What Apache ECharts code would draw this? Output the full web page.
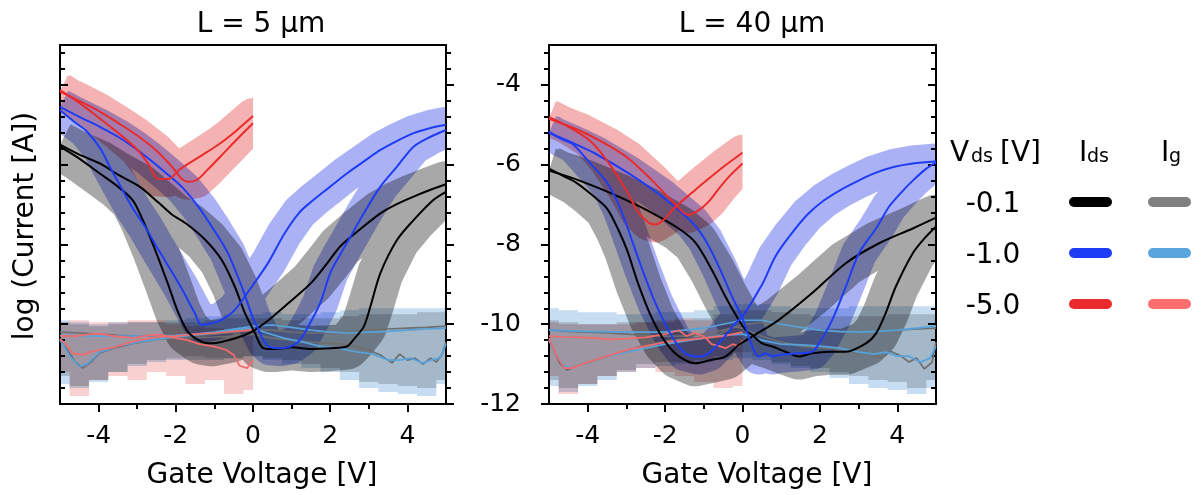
<!DOCTYPE html>
<html><head><meta charset="utf-8">
<script src="https://cdn.jsdelivr.net/npm/echarts@6/dist/echarts.min.js"></script>
<style>html,body{margin:0;padding:0;background:#fff}#chart{width:1201px;height:495px}</style>
</head><body><div id="chart"></div>
<script>
// ---------- tick values / labels ----------
const xMajorTicks = [-4, -2, 0, 2, 4];
const xMinorTicks = [-3, -1, 1, 3];
const yMajorTicks = [-12, -10, -8, -6, -4];
const yMinorTicks = [-11.6,-11.2,-10.8,-10.4,-9.6,-9.2,-8.8,-8.4,-7.6,-7.2,-6.8,-6.4,-5.6,-5.2,-4.8,-4.4,-3.6,-3.2];
const panelTitles = ['L = 5 µm', 'L = 40 µm'];
const xName = 'Gate Voltage [V]';
const yName = 'log (Current [A])';
const vdsLabels = ['-0.1', '-1.0', '-5.0'];

// ---------- L = 5 um : drain current sweeps [Vg, log I] ----------
const l5BlackFwd = [[-5,-5.55],[-4.5,-5.85],[-3.97,-6.22],[-3.5,-6.55],[-3.11,-6.9],[-2.85,-7.4],[-2.55,-8.1],[-2.2,-9.0],[-1.94,-9.7],[-1.68,-10.2],[-1.33,-10.44],[-1.07,-10.48],[-0.64,-10.4],[-0.21,-10.27],[0.05,-10.14],[0.4,-9.9],[0.92,-9.47],[1.52,-8.95],[1.9,-8.5],[2.26,-8.05],[2.8,-7.6],[3.3,-7.22],[3.7,-7.0],[4.16,-6.8],[4.6,-6.63],[5,-6.49]];
const l5BlackRev = [[5,-6.68],[4.68,-6.88],[4.16,-7.39],[3.73,-7.89],[3.3,-8.72],[3.04,-9.56],[2.87,-10.06],[2.6,-10.39],[2.43,-10.56],[2.0,-10.6],[1.5,-10.62],[1.0,-10.58],[0.6,-10.62],[0.4,-10.62],[0.22,-10.56],[0.05,-10.22],[-0.21,-9.72],[-0.47,-9.06],[-0.81,-8.39],[-1.22,-7.9],[-1.7,-7.5],[-2.1,-7.25],[-2.45,-6.95],[-2.94,-6.55],[-3.5,-6.25],[-3.97,-5.97],[-4.5,-5.75],[-5,-5.5]];
const l5BlueFwd = [[-5,-4.63],[-4.6,-4.95],[-4.32,-5.15],[-3.95,-5.6],[-3.71,-6.05],[-3.4,-6.6],[-3.11,-7.1],[-2.8,-7.55],[-2.5,-8.05],[-2.25,-8.45],[-1.85,-9.1],[-1.51,-9.72],[-1.33,-10.02],[-1.07,-9.97],[-0.81,-9.89],[-0.47,-9.64],[-0.12,-9.18],[0.4,-8.45],[0.8,-7.75],[1.2,-7.2],[1.57,-6.88],[2.0,-6.55],[2.43,-6.22],[2.9,-5.9],[3.3,-5.63],[3.7,-5.42],[4.16,-5.21],[4.6,-5.08],[5,-5.0]];
const l5BlueRev = [[5,-5.13],[4.6,-5.3],[4.16,-5.55],[3.73,-6.05],[3.3,-6.55],[2.87,-7.22],[2.5,-7.85],[2.26,-8.25],[2.0,-8.72],[1.74,-9.47],[1.48,-9.97],[1.22,-10.39],[0.96,-10.56],[0.7,-10.6],[0.45,-10.58],[0.3,-10.45],[0.15,-10.15],[0.0,-9.85],[-0.29,-9.06],[-0.66,-8.2],[-1.07,-7.55],[-1.38,-7.1],[-1.8,-6.6],[-2.24,-6.22],[-2.7,-5.85],[-3.11,-5.55],[-3.5,-5.3],[-3.97,-5.05],[-4.5,-4.8],[-5,-4.55]];
const l5RedFwd = [[-5,-4.13],[-4.5,-4.45],[-4.0,-4.82],[-3.5,-5.2],[-3.0,-5.62],[-2.7,-6.0],[-2.47,-6.35],[-2.2,-6.36],[-1.9,-6.12],[-1.38,-5.8],[-0.9,-5.5],[-0.51,-5.21],[0,-4.78]];
const l5RedRev = [[0,-4.96],[-0.3,-5.25],[-0.68,-5.63],[-1.2,-6.15],[-1.45,-6.38],[-1.69,-6.43],[-1.85,-6.35],[-2.1,-6.05],[-2.5,-5.65],[-3.0,-5.27],[-3.5,-4.95],[-4.0,-4.65],[-4.5,-4.4],[-5,-4.17]];

// ---------- L = 5 um : gate current sweeps ----------
const l5IgGrayA = [[-5,-10.2],[-4.5,-10.22],[-4,-10.25],[-3.5,-10.28],[-3,-10.3],[-2.5,-10.3],[-2,-10.3],[-1.5,-10.28],[-1,-10.25],[-0.5,-10.2],[0,-10.15],[0.5,-10.15],[1,-10.2],[1.5,-10.22],[2,-10.22],[2.5,-10.2],[3,-10.15],[3.5,-10.12],[4,-10.1],[4.5,-10.08],[5,-10.05]];
const l5IgGrayB = [[5,-10.45],[4.9,-10.75],[4.75,-10.95],[4.6,-10.85],[4.4,-11.0],[4.2,-10.85],[4.0,-10.9],[3.8,-10.75],[3.6,-10.97],[3.3,-10.77],[3.0,-10.65],[2.7,-10.56],[2.3,-10.5],[2.0,-10.48],[1.5,-10.45],[1.0,-10.4],[0.5,-10.35],[0,-10.25],[-0.5,-10.3],[-1,-10.32],[-1.5,-10.33],[-2,-10.35],[-2.5,-10.38],[-3.1,-10.48],[-3.6,-10.6],[-3.97,-10.72],[-4.2,-10.95],[-4.41,-11.1],[-4.6,-10.95],[-4.8,-10.65],[-5,-10.4]];
const l5IgBlueA = [[-5,-10.28],[-4,-10.3],[-3,-10.3],[-2,-10.28],[-1.5,-10.25],[-1,-10.2],[-0.5,-10.12],[0,-10.05],[0.5,-10.02],[1,-10.08],[1.5,-10.15],[2,-10.2],[2.5,-10.22],[3,-10.2],[3.5,-10.18],[4,-10.15],[4.5,-10.12],[5,-10.1]];
const l5IgBlueB = [[5,-10.5],[4.85,-10.85],[4.6,-10.9],[4.4,-10.98],[4.1,-10.85],[3.8,-10.9],[3.51,-10.9],[3.1,-10.75],[2.65,-10.69],[2.2,-10.6],[1.78,-10.56],[1.3,-10.45],[0.8,-10.35],[0.3,-10.2],[0,-10.1],[-0.5,-10.15],[-1,-10.22],[-2,-10.32],[-3,-10.45],[-3.5,-10.55],[-3.97,-10.7],[-4.3,-11.0],[-4.5,-11.06],[-4.75,-10.8],[-5,-10.38]];
const l5IgRedA = [[-5,-10.29],[-4.6,-10.3],[-4.2,-10.25],[-3.97,-10.24],[-3.6,-10.3],[-3.11,-10.34],[-2.7,-10.28],[-2.4,-10.26],[-2.0,-10.35],[-1.7,-10.4],[-1.38,-10.5],[-1.0,-10.56],[-0.7,-10.64],[-0.5,-10.77],[-0.35,-11.04],[-0.15,-11.1],[0,-10.9]];
const l5IgRedB = [[0,-10.14],[-0.5,-10.18],[-1,-10.22],[-1.5,-10.25],[-2,-10.3],[-2.5,-10.32],[-3.1,-10.43],[-3.6,-10.58],[-3.97,-10.64],[-4.23,-10.7],[-4.41,-10.77],[-4.67,-10.73],[-4.85,-10.5],[-5,-10.37]];

// ---------- L = 40 um : drain current sweeps ----------
const l40BlackFwd = [[-5,-6.1],[-4.6,-6.3],[-4.3,-6.45],[-3.9,-6.75],[-3.5,-7.1],[-3.2,-7.65],[-2.98,-8.15],[-2.69,-9.0],[-2.34,-9.85],[-1.99,-10.45],[-1.65,-10.8],[-1.22,-10.98],[-0.79,-10.89],[-0.44,-10.81],[-0.1,-10.52],[0.25,-10.31],[0.94,-9.89],[1.8,-9.22],[2.67,-8.47],[3.53,-7.97],[4.4,-7.6],[5,-7.33]];
const l40BlackRev = [[5,-7.55],[4.7,-7.85],[4.4,-8.22],[3.96,-9.06],[3.7,-9.72],[3.45,-10.23],[3.19,-10.48],[2.67,-10.69],[2.24,-10.69],[1.8,-10.73],[1.46,-10.81],[1.11,-10.69],[0.77,-10.56],[0.51,-10.48],[0.25,-10.27],[0.08,-10.14],[-0.1,-9.89],[-0.44,-9.31],[-0.79,-8.64],[-1.22,-7.95],[-1.65,-7.6],[-2.45,-7.15],[-3.2,-6.8],[-3.94,-6.5],[-4.5,-6.3],[-5,-6.15]];
const l40BlueFwd = [[-5,-5.17],[-4.7,-5.35],[-4.37,-5.5],[-3.95,-5.95],[-3.5,-6.45],[-3.2,-7.0],[-3.0,-7.5],[-2.82,-8.0],[-2.6,-8.6],[-2.25,-9.47],[-1.82,-10.31],[-1.48,-10.73],[-1.13,-10.81],[-0.87,-10.73],[-0.53,-10.39],[-0.18,-9.97],[0,-9.81],[0.51,-9.0],[0.85,-8.3],[1.25,-7.75],[1.68,-7.25],[2.1,-6.9],[2.54,-6.63],[3.0,-6.4],[3.4,-6.22],[3.9,-6.06],[4.4,-5.97],[5,-5.92]];
const l40BlueRev = [[5,-5.95],[4.75,-6.1],[4.4,-6.4],[4.1,-6.7],[3.79,-7.05],[3.45,-7.6],[3.01,-8.22],[2.67,-9.06],[2.32,-9.89],[1.98,-10.48],[1.8,-10.69],[1.46,-10.73],[0.94,-10.77],[0.77,-10.81],[0.6,-10.73],[0.42,-10.81],[0.25,-10.56],[0.08,-10.06],[-0.05,-9.75],[-0.27,-9.31],[-0.61,-8.56],[-0.96,-7.89],[-1.3,-7.45],[-2.08,-6.8],[-2.94,-6.22],[-3.81,-5.72],[-4.4,-5.45],[-5,-5.2]];
const l40RedFwd = [[-5,-4.81],[-4.5,-5.05],[-3.94,-5.4],[-3.5,-5.9],[-3.0,-6.65],[-2.69,-7.2],[-2.43,-7.45],[-2.25,-7.5],[-2.0,-7.35],[-1.78,-7.1],[-1.3,-6.7],[-0.91,-6.38],[-0.45,-6.02],[0,-5.7]];
const l40RedRev = [[0,-5.97],[-0.3,-6.25],[-0.57,-6.55],[-0.85,-6.9],[-1.1,-7.12],[-1.4,-7.26],[-1.78,-6.95],[-2.38,-6.35],[-2.94,-5.85],[-3.5,-5.5],[-4.2,-5.15],[-5,-4.85]];

// ---------- L = 40 um : gate current sweeps ----------
const l40IgGrayA = [[-5,-10.14],[-4.5,-10.18],[-4,-10.2],[-3.5,-10.22],[-3,-10.25],[-2.5,-10.28],[-2,-10.3],[-1.5,-10.3],[-1,-10.25],[-0.5,-10.15],[0,-10.02],[0.5,-9.95],[1,-10.0],[1.5,-10.08],[2,-10.15],[2.5,-10.2],[3,-10.2],[3.5,-10.18],[4,-10.15],[4.5,-10.12],[5,-10.1]];
const l40IgGrayB = [[5,-10.45],[4.9,-10.95],[4.7,-11.12],[4.5,-10.85],[4.3,-10.95],[4.1,-10.8],[3.83,-10.68],[3.6,-10.85],[3.3,-10.75],[2.97,-10.73],[2.5,-10.62],[2.0,-10.6],[1.5,-10.55],[1.0,-10.45],[0.5,-10.3],[0,-10.1],[-0.22,-10.06],[-0.6,-10.25],[-0.91,-10.31],[-1.78,-10.39],[-2.64,-10.56],[-3.5,-10.81],[-4.2,-11.02],[-4.54,-11.15],[-4.72,-10.98],[-5,-10.39]];
const l40IgBlueA = [[-5,-10.15],[-4,-10.18],[-3,-10.2],[-2,-10.2],[-1.5,-10.15],[-1,-10.1],[-0.5,-10.0],[0,-9.9],[0.5,-9.9],[1,-10.0],[1.5,-10.08],[2,-10.15],[2.5,-10.18],[3,-10.2],[3.5,-10.18],[4,-10.15],[4.5,-10.1],[5,-10.05]];
const l40IgBlueB = [[5,-10.55],[4.85,-10.85],[4.6,-10.95],[4.3,-10.8],[4.0,-10.8],[3.7,-10.7],[3.4,-10.75],[3.0,-10.7],[2.5,-10.6],[2.0,-10.55],[1.5,-10.52],[1.0,-10.5],[0.5,-10.4],[0.2,-10.3],[0,-10.25],[-0.5,-10.28],[-1,-10.35],[-2,-10.5],[-3,-10.7],[-3.5,-10.8],[-4,-10.95],[-4.4,-11.1],[-4.6,-11.05],[-4.8,-10.8],[-5,-10.4]];
const l40IgRedA = [[-5,-10.3],[-4.6,-10.32],[-4.2,-10.33],[-3.8,-10.35],[-3.4,-10.38],[-3.0,-10.36],[-2.5,-10.33],[-2.0,-10.25],[-1.65,-10.15],[-1.45,-10.3],[-1.25,-10.22],[-1.0,-10.3],[-0.8,-10.5],[-0.6,-10.55],[-0.44,-10.6],[-0.25,-10.5],[-0.1,-10.55],[0,-10.4]];
const l40IgRedB = [[0,-10.2],[-0.5,-10.3],[-1,-10.35],[-1.5,-10.4],[-2,-10.45],[-2.5,-10.55],[-3,-10.65],[-3.5,-10.8],[-4,-10.95],[-4.4,-11.1],[-4.6,-11.1],[-4.8,-10.8],[-5,-10.35]];

// ---------- gate current spread bands [Vg, upper, lower] ----------
const l5IgGrayBand = [[-5,-9.95,-11.3],[-4.5,-10.0,-11.55],[-4,-10.05,-11.4],[-3.5,-10.0,-11.2],[-3,-9.95,-11.0],[-2.5,-9.95,-10.9],[-2,-9.95,-10.85],[-1.5,-9.95,-10.8],[-1,-9.9,-10.85],[-0.5,-9.85,-10.85],[0,-9.85,-10.8],[0.5,-9.85,-10.85],[1,-9.9,-10.9],[1.5,-9.85,-11.0],[2,-9.85,-11.1],[2.5,-9.8,-11.2],[3,-9.75,-11.45],[3.5,-9.75,-11.5],[4,-9.75,-11.55],[4.5,-9.7,-11.6],[5,-9.7,-11.4]];
const l5IgBlueBand = [[-5,-9.9,-11.5],[-4.5,-9.95,-11.6],[-4,-10.0,-11.45],[-3.5,-9.95,-11.2],[-3,-9.95,-11.05],[-2.5,-9.95,-10.95],[-2,-9.9,-10.9],[-1.5,-9.85,-10.9],[-1,-9.8,-10.9],[-0.5,-9.75,-10.85],[0,-9.75,-10.8],[0.5,-9.7,-10.9],[1,-9.75,-11.0],[1.5,-9.75,-11.1],[2,-9.7,-11.2],[2.5,-9.65,-11.4],[3,-9.6,-11.6],[3.5,-9.6,-11.7],[4,-9.6,-11.75],[4.5,-9.6,-11.8],[5,-9.6,-11.5]];
const l5IgRedBand = [[-5,-9.95,-11.2],[-4.5,-9.9,-11.8],[-4,-9.95,-11.4],[-3.5,-9.95,-11.3],[-3,-9.9,-11.4],[-2.5,-9.9,-11.2],[-2,-10.0,-11.3],[-1.5,-10.05,-11.5],[-1,-10.1,-11.4],[-0.5,-10.15,-11.75],[0,-10.2,-11.65]];
const l40IgGrayBand = [[-5,-9.9,-11.4],[-4.5,-9.95,-11.6],[-4,-10.0,-11.5],[-3.5,-10.0,-11.3],[-3,-9.95,-11.15],[-2.5,-9.95,-11.0],[-2,-9.95,-10.95],[-1.5,-9.9,-10.95],[-1,-9.85,-10.9],[-0.5,-9.75,-10.8],[0,-9.65,-10.7],[0.5,-9.65,-10.8],[1,-9.7,-10.95],[1.5,-9.75,-11.05],[2,-9.8,-11.1],[2.5,-9.8,-11.2],[3,-9.8,-11.3],[3.5,-9.8,-11.4],[4,-9.75,-11.45],[4.5,-9.75,-11.6],[5,-9.75,-11.4]];
const l40IgBlueBand = [[-5,-9.6,-11.55],[-4.5,-9.65,-11.7],[-4,-9.7,-11.55],[-3.5,-9.7,-11.4],[-3,-9.75,-11.2],[-2.5,-9.75,-11.1],[-2,-9.7,-11.05],[-1.5,-9.7,-11.0],[-1,-9.65,-10.95],[-0.5,-9.55,-10.9],[0,-9.5,-10.85],[0.5,-9.5,-10.9],[1,-9.55,-11.0],[1.5,-9.6,-11.1],[2,-9.6,-11.2],[2.5,-9.6,-11.35],[3,-9.55,-11.5],[3.5,-9.55,-11.6],[4,-9.55,-11.65],[4.5,-9.55,-11.75],[5,-9.55,-11.6]];
const l40IgRedBand = [[-5,-9.95,-11.3],[-4.5,-10.0,-11.75],[-4,-10.0,-11.5],[-3.5,-10.0,-11.3],[-3,-10.0,-11.2],[-2.5,-9.95,-11.1],[-2,-9.9,-11.2],[-1.5,-9.85,-11.3],[-1,-9.9,-11.45],[-0.5,-10.0,-11.6],[0,-10.05,-11.55]];

// ---------- styles ----------
const idsColors = ['#000000', '#1f3cf5', '#ea2b2b'];
const igColors = ['#6e6e6e', '#56a3dc', '#f26a6a'];
const idsLegendColors = ['#000000', '#1f3cf5', '#ea2b2b'];
const igLegendColors = ['#808080', '#5ba5dd', '#fd6e6e'];
const idsBandColors = ['#a8a8a8', '#aab2f5', '#f5b2b2'];
const idsBandWidths = [46, 36, 36];
const igBandColors = ['#d4d4d4', '#c6ddf2', '#f8d0d0'];
const FONT = '"DejaVu Sans", sans-serif';

// ---------- axes ----------
const axLine = {show: true, onZero: false, lineStyle: {color: '#000', width: 2}};
const tickStyle = {color: '#000', width: 2};
function makeXAxes(g) {
  const base = {gridIndex: g, type: 'value', min: -5, max: 5, splitLine: {show: false}};
  return [
    Object.assign({}, base, {position: 'bottom', axisLine: axLine,
      axisTick: {show: true, customValues: xMajorTicks, length: 8, inside: false, lineStyle: tickStyle},
      axisLabel: {show: true, customValues: xMajorTicks, fontSize: 25, fontFamily: FONT, color: '#000', margin: 20}}),
    Object.assign({}, base, {position: 'bottom', axisLine: {show: false, onZero: false},
      axisTick: {show: true, customValues: xMinorTicks, length: 5, inside: false, lineStyle: tickStyle},
      axisLabel: {show: false}}),
    Object.assign({}, base, {position: 'top', axisLine: axLine, axisTick: {show: false}, axisLabel: {show: false}})
  ];
}
function makeYAxes(g, leftInside, leftLabels, rightInside) {
  const base = {gridIndex: g, type: 'value', min: -12, max: -3, splitLine: {show: false}};
  return [
    Object.assign({}, base, {position: 'left', axisLine: axLine,
      axisTick: {show: true, customValues: yMajorTicks, length: 8, inside: leftInside, lineStyle: tickStyle},
      axisLabel: {show: leftLabels, customValues: yMajorTicks, fontSize: 25, fontFamily: FONT, color: '#000', margin: 28}}),
    Object.assign({}, base, {position: 'left', axisLine: {show: false, onZero: false},
      axisTick: {show: true, customValues: yMinorTicks, length: 5, inside: leftInside, lineStyle: tickStyle},
      axisLabel: {show: false}}),
    Object.assign({}, base, {position: 'right', axisLine: axLine,
      axisTick: {show: true, customValues: yMajorTicks, length: 8, inside: rightInside, lineStyle: tickStyle},
      axisLabel: {show: false}}),
    Object.assign({}, base, {position: 'right', axisLine: {show: false, onZero: false},
      axisTick: {show: true, customValues: yMinorTicks, length: 5, inside: rightInside, lineStyle: tickStyle},
      axisLabel: {show: false}})
  ];
}

// ---------- series builders ----------
function loopBand(fwd, rev, xi, yi, color, width, vmax) {
  const pts = fwd.concat(rev);
  return {type: 'custom', xAxisIndex: xi, yAxisIndex: yi, z: 1, silent: true,
    data: pts, encode: {x: 0, y: 1},
    renderItem: function (params, api) {
      if (params.dataIndex !== 0) return null;
      const p = pts.map(function (d) { return api.coord(d); });
      const a = api.coord([-5, -3]), b = api.coord([vmax, -12]);
      return {type: 'polyline', name: 'band', shape: {points: p},
        style: {stroke: color, fill: null, lineWidth: width, lineJoin: 'round', lineCap: 'butt'},
        clipPath: {type: 'rect', shape: {x: a[0], y: a[1], width: b[0] - a[0], height: b[1] - a[1]}}};
    }};
}
function stepBand(tri, xi, yi, color, vmin, vmax) {
  const half = 0.25;
  return {type: 'custom', xAxisIndex: xi, yAxisIndex: yi, z: 1, silent: true,
    data: tri.map(function (t) { return [t[0], t[1]]; }), encode: {x: 0, y: 1},
    renderItem: function (params, api) {
      if (params.dataIndex !== 0) return null;
      const pts = [];
      tri.forEach(function (t) {
        const x0 = Math.max(vmin, t[0] - half), x1 = Math.min(vmax, t[0] + half);
        pts.push(api.coord([x0, t[1]]), api.coord([x1, t[1]]));
      });
      for (let i = tri.length - 1; i >= 0; i--) {
        const t = tri[i];
        const x0 = Math.max(vmin, t[0] - half), x1 = Math.min(vmax, t[0] + half);
        pts.push(api.coord([x1, t[2]]), api.coord([x0, t[2]]));
      }
      return {type: 'polygon', name: 'band', shape: {points: pts}, style: {fill: color, stroke: null}};
    }};
}
function curve(data, xi, yi, color, w, z, smooth) {
  return {type: 'line', xAxisIndex: xi, yAxisIndex: yi, data: data, showSymbol: false, symbol: 'none',
    smooth: smooth, lineStyle: {color: color, width: w}, z: z, silent: true, clip: true};
}

function panelSeries(xi, yi, d) {
  const s = [];
  s.push(stepBand(d.igBands[0], xi, yi, igBandColors[0], -5, 5));
  s.push(stepBand(d.igBands[1], xi, yi, igBandColors[1], -5, 5));
  s.push(stepBand(d.igBands[2], xi, yi, igBandColors[2], -5, 0));
  for (let k = 0; k < 3; k++) {
    s.push(loopBand(d.ids[k][0], d.ids[k][1], xi, yi, idsBandColors[k], idsBandWidths[k], k === 2 ? 0 : 5));
  }
  for (let k = 0; k < 3; k++) {
    s.push(curve(d.ig[k][0], xi, yi, igColors[k], 1.7, 3, false));
    s.push(curve(d.ig[k][1], xi, yi, igColors[k], 1.7, 3, false));
  }
  for (let k = 0; k < 3; k++) {
    s.push(curve(d.ids[k][0], xi, yi, idsColors[k], 2, 4, 0.3));
    s.push(curve(d.ids[k][1], xi, yi, idsColors[k], 2, 4, 0.3));
  }
  return s;
}

const panel5 = {
  ids: [[l5BlackFwd, l5BlackRev], [l5BlueFwd, l5BlueRev], [l5RedFwd, l5RedRev]],
  ig: [[l5IgGrayA, l5IgGrayB], [l5IgBlueA, l5IgBlueB], [l5IgRedA, l5IgRedB]],
  igBands: [l5IgGrayBand, l5IgBlueBand, l5IgRedBand]
};
const panel40 = {
  ids: [[l40BlackFwd, l40BlackRev], [l40BlueFwd, l40BlueRev], [l40RedFwd, l40RedRev]],
  ig: [[l40IgGrayA, l40IgGrayB], [l40IgBlueA, l40IgBlueB], [l40IgRedA, l40IgRedB]],
  igBands: [l40IgGrayBand, l40IgBlueBand, l40IgRedBand]
};

// ---------- text & legend graphics ----------
function txt(x, y, text, size, align, extra) {
  return Object.assign({type: 'text', x: x, y: y, silent: true, z: 10,
    style: {text: text, font: size + 'px ' + FONT, fill: '#000', align: align, verticalAlign: 'middle',
      textAlign: align, textVerticalAlign: 'middle'}}, extra || {});
}
const graphics = [
  txt(261, 25, panelTitles[0], 28, 'center'),
  txt(752, 25, panelTitles[1], 28, 'center'),
  txt(262, 476, xName, 28, 'center'),
  txt(757, 476, xName, 28, 'center'),
  txt(26, 226, yName, 28, 'center', {rotation: Math.PI / 2}),
  txt(950, 153.5, 'V', 28, 'left'),
  txt(971, 157, 'ds', 19, 'left'),
  txt(1000, 153.5, '[V]', 28, 'left'),
  txt(1079, 153.5, 'I', 28, 'left'),
  txt(1087, 157, 'ds', 19, 'left'),
  txt(1161, 153.5, 'I', 28, 'left'),
  txt(1169, 157, 'g', 19, 'left')
];
const rowY = [202, 253, 304];
for (let k = 0; k < 3; k++) {
  graphics.push(txt(993, rowY[k] + 3, vdsLabels[k], 28, 'center'));
  graphics.push({type: 'line', silent: true, z: 10, shape: {x1: 1074, y1: rowY[k], x2: 1107, y2: rowY[k]},
    style: {stroke: idsLegendColors[k], lineWidth: 10, lineCap: 'round'}});
  graphics.push({type: 'line', silent: true, z: 10, shape: {x1: 1153, y1: rowY[k], x2: 1186, y2: rowY[k]},
    style: {stroke: igLegendColors[k], lineWidth: 10, lineCap: 'round'}});
}

const option = {
  backgroundColor: '#ffffff',
  animation: false,
  grid: [
    {left: 60, top: 45, width: 386, height: 359, containLabel: false},
    {left: 549, top: 45, width: 387, height: 359, containLabel: false}
  ],
  xAxis: makeXAxes(0).concat(makeXAxes(1)),
  yAxis: makeYAxes(0, true, false, false).concat(makeYAxes(1, false, true, true)),
  series: panelSeries(0, 0, panel5).concat(panelSeries(3, 4, panel40)),
  graphic: graphics
};

const chart = echarts.init(document.getElementById('chart'), null, {renderer: 'canvas'});
chart.setOption(option);

// spread bands are blended multiplicatively so that overlapping bands darken, as in the original figure
(function applyMultiply() {
  const zr = chart.getZr();
  zr.storage.getDisplayList(true).forEach(function (el) {
    const st = el.style || {};
    if (el.name === 'band' || idsBandColors.indexOf(st.stroke) >= 0 || igBandColors.indexOf(st.fill) >= 0) {
      st.blend = 'multiply';
      el.markRedraw && el.markRedraw();
    }
  });
  zr.refreshImmediately();
})();
</script></body></html>
